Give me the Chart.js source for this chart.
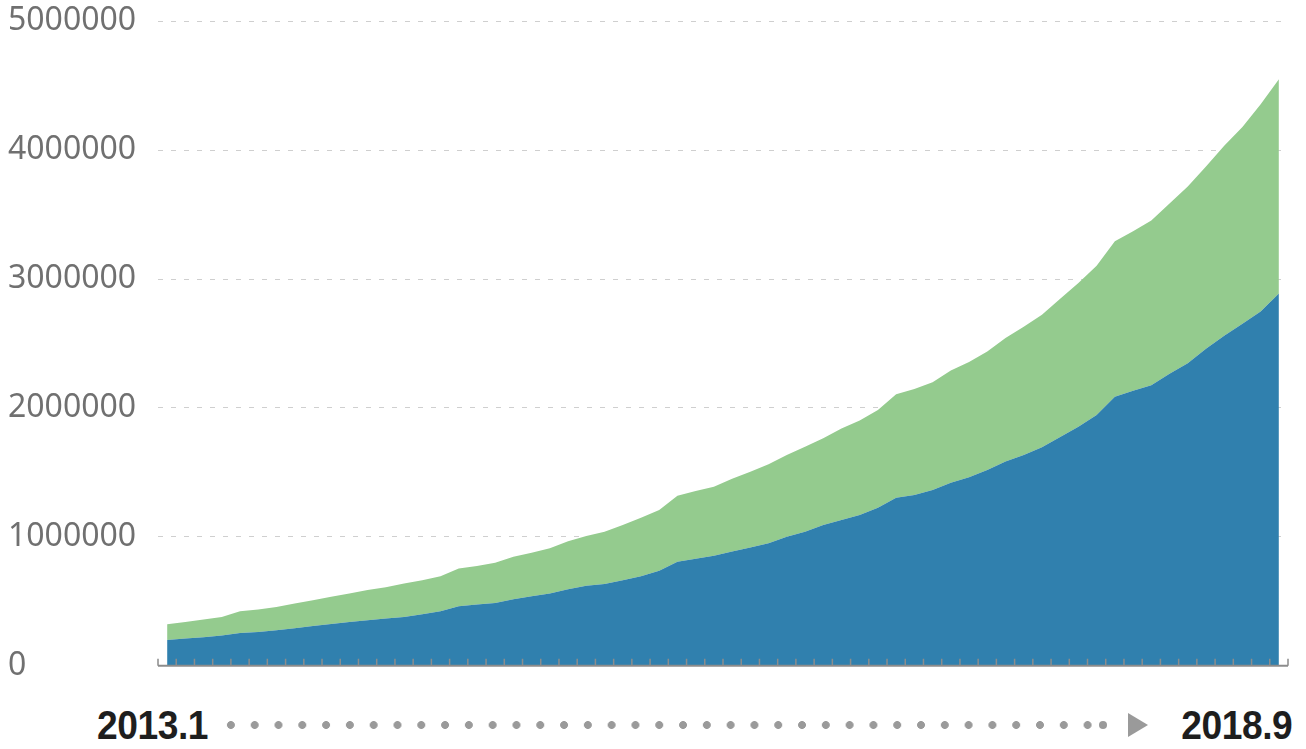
<!DOCTYPE html>
<html>
<head>
<meta charset="utf-8">
<script src="https://cdn.jsdelivr.net/npm/chart.js@4/dist/chart.umd.min.js"></script>
<style>
    body { margin: 0; background: #fff; overflow: hidden; }
    #wrap { position: absolute; left: 0; top: 0; width: 1306px; height: 687px; }
    .year {
        position: absolute;
        top: 705px;
        font: bold 40px "Liberation Sans", Arial, sans-serif;
        line-height: 40px;
        color: #1e1e1e;
        letter-spacing: -0.5px;
    }
    #startLabel { left: 97px; transform: scaleX(0.93); transform-origin: left center; }
    #endLabel { right: 14px; transform: scaleX(0.93); transform-origin: right center; }
    #dots {
        position: absolute;
        left: 219px;
        top: 721px;
        width: 881px;
        height: 8px;
        background-image: radial-gradient(circle, #9a9a9a 3.6px, transparent 4.2px);
        background-size: 23.8px 8px;
        background-repeat: repeat-x;
    }
    #lastDot {
        position: absolute;
        left: 1099px;
        top: 721px;
        width: 8px;
        height: 8px;
        border-radius: 50%;
        background: #9a9a9a;
    }
    #arrow {
        position: absolute;
        left: 1128px;
        top: 713px;
        width: 0;
        height: 0;
        border-left: 20px solid #9a9a9a;
        border-top: 12px solid transparent;
        border-bottom: 12px solid transparent;
    }
</style>
</head>
<body>
<div id="wrap"><canvas id="chart"></canvas></div>
<div class="year" id="startLabel"></div>
<div id="dots"></div>
<div id="lastDot"></div>
<div id="arrow"></div>
<div class="year" id="endLabel"></div>
<script>
const startLabel = "2013.1";
const endLabel = "2018.9";

const yTicks = [0, 1000000, 2000000, 3000000, 4000000, 5000000];

// lower band (blue)
const seriesBlue = [
    200000, 211000, 221000, 235000, 255000, 263000, 276000, 291000, 309000, 325000,
    340000, 354000, 367000, 379000, 400000, 423000, 462000, 476000, 488000, 517000,
    540000, 561000, 594000, 620000, 635000, 664000, 695000, 737000, 807000, 830000,
    853000, 887000, 918000, 950000, 1001000, 1040000, 1092000, 1131000, 1169000, 1226000,
    1304000, 1325000, 1364000, 1420000, 1462000, 1519000, 1584000, 1636000, 1695000, 1775000,
    1855000, 1946000, 2086000, 2133000, 2177000, 2265000, 2347000, 2459000, 2560000, 2653000,
    2749000, 2887000
];

// upper band (green), stacked on the blue one
const seriesGreen = [
    122000, 129000, 138000, 144000, 168000, 174000, 181000, 192000, 200000, 210000,
    221000, 233000, 243000, 260000, 264000, 272000, 293000, 299000, 311000, 328000,
    336000, 350000, 373000, 386000, 404000, 428000, 453000, 471000, 512000, 526000,
    536000, 564000, 588000, 613000, 635000, 660000, 673000, 709000, 733000, 759000,
    803000, 823000, 836000, 871000, 894000, 919000, 958000, 994000, 1028000, 1073000,
    1115000, 1158000, 1208000, 1238000, 1277000, 1321000, 1371000, 1414000, 1473000, 1527000,
    1606000, 1662000
];

const categories = seriesBlue.map((_, i) => String(i + 1));

document.getElementById("startLabel").textContent = startLabel;
document.getElementById("endLabel").textContent = endLabel;

const axisTicks = {
    id: "axisTicks",
    afterDatasetsDraw(chart) {
        const x = chart.scales.x;
        const area = chart.chartArea;
        const half = (x.getPixelForValue(1) - x.getPixelForValue(0)) / 2;
        const ctx = chart.ctx;
        ctx.save();
        ctx.strokeStyle = "#8c8c8c";
        ctx.lineWidth = 1.5;
        ctx.beginPath();
        for (let i = 0; i <= categories.length; i++) {
            const px = x.getPixelForValue(i) - half;
            ctx.moveTo(px, area.bottom);
            ctx.lineTo(px, area.bottom - 7);
        }
        ctx.stroke();
        ctx.lineWidth = 2;
        ctx.beginPath();
        ctx.moveTo(area.left, area.bottom);
        ctx.lineTo(area.right, area.bottom);
        ctx.stroke();
        ctx.restore();
    },
};

new Chart(document.getElementById("chart"), {
    type: "line",
    data: {
        labels: categories,
        datasets: [
            {
                data: seriesBlue,
                backgroundColor: "#3080ae",
                borderWidth: 0,
                pointRadius: 0,
                fill: "origin",
            },
            {
                data: seriesGreen,
                backgroundColor: "#94cb8e",
                borderWidth: 0,
                pointRadius: 0,
                fill: "-1",
            },
        ],
    },
    options: {
        responsive: true,
        maintainAspectRatio: false,
        animation: false,
        layout: { padding: { left: 8, right: 18, top: 2, bottom: 0 } },
        plugins: {
            legend: { display: false },
            tooltip: { enabled: false },
        },
        scales: {
            x: {
                offset: true,
                grid: { display: false },
                border: { display: false },
                ticks: { display: false },
            },
            y: {
                stacked: true,
                min: 0,
                max: 5000000,
                afterBuildTicks(scale) {
                    scale.ticks = yTicks.map((v) => ({ value: v }));
                },
                afterFit(scale) {
                    scale.width = 150;
                },
                grid: {
                    color: (c) => (c.tick.value === 0 ? "rgba(0,0,0,0)" : "#cfcfcf"),
                    drawTicks: false,
                },
                border: { display: false, dash: [5, 8] },
                ticks: {
                    crossAlign: "far",
                    padding: 2,
                    color: "#707070",
                    font: { family: "Noto Sans", size: 32 },
                    callback: (v) => String(v),
                },
            },
        },
    },
    plugins: [axisTicks],
});
</script>
</body>
</html>
